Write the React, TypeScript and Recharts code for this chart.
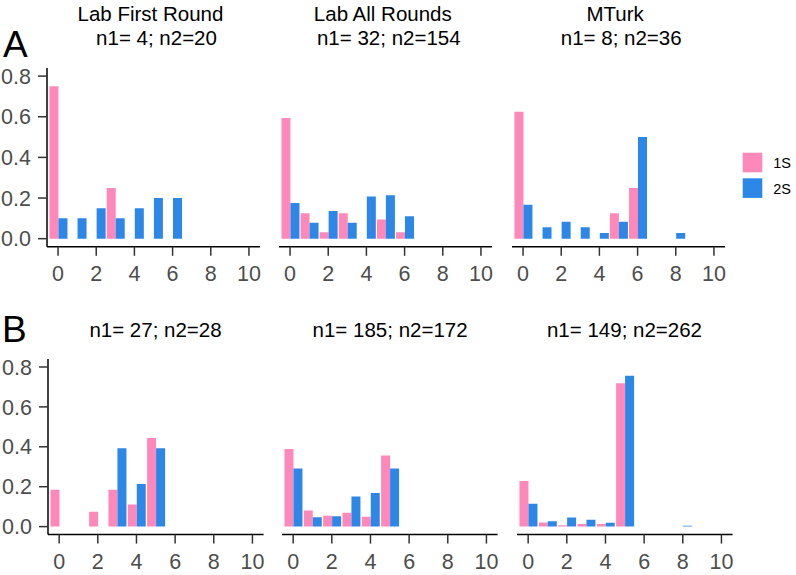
import React from 'react';
import { BarChart, Bar, XAxis, YAxis } from 'recharts';

// ---------- data ----------
const categories = [0, 1, 2, 3, 4, 5, 6, 7, 8, 9, 10];
const yTicks = [0, 0.2, 0.4, 0.6, 0.8];
const seriesNames = ['1S', '2S'];

// Row A
const labFirst1S = [0.75, null, null, 0.25, null, null, null, null, null, null, null];
const labFirst2S = [0.1, 0.1, 0.15, 0.1, 0.15, 0.2, 0.2, null, null, null, null];
const labAll1S = [0.594, 0.125, 0.031, 0.125, null, 0.094, 0.031, null, null, null, null];
const labAll2S = [0.175, 0.078, 0.136, 0.078, 0.208, 0.214, 0.11, null, null, null, null];
const mturk1S = [0.625, null, null, null, null, 0.125, 0.25, null, null, null, null];
const mturk2S = [0.167, 0.056, 0.083, 0.056, 0.028, 0.083, 0.5, null, 0.028, null, null];

// Row B
const bLabFirst1S = [0.185, null, 0.074, 0.185, 0.111, 0.444, null, null, null, null, null];
const bLabFirst2S = [null, null, null, 0.393, 0.214, 0.393, null, null, null, null, null];
const bLabAll1S = [0.389, 0.081, 0.054, 0.07, 0.049, 0.357, null, null, null, null, null];
const bLabAll2S = [0.291, 0.047, 0.052, 0.151, 0.169, 0.291, null, null, null, null, null];
const bMturk1S = [0.228, 0.02, 0.0067, 0.0134, 0.0134, 0.718, null, null, null, null, null];
const bMturk2S = [0.115, 0.027, 0.046, 0.034, 0.019, 0.756, null, null, 0.0038, null, null];

const rowATitles = ['Lab First Round', 'Lab All Rounds', 'MTurk'];
const rowACounts = ['n1= 4; n2=20', 'n1= 32; n2=154', 'n1= 8; n2=36'];
const rowBCounts = ['n1= 27; n2=28', 'n1= 185; n2=172', 'n1= 149; n2=262'];

// ---------- styles ----------
const PINK = '#FF88BB';
const BLUE = '#2C87E7';
const FONT = '"Liberation Sans", Arial, Helvetica, sans-serif';
const COLORS = [PINK, BLUE];
const TICK_FS = 21.5;

const ML = 50;
const MT = 10;
const MR = 10;
const MB = 50;
const XH = 45;

type PanelProps = {
  s1: (number | null)[];
  s2: (number | null)[];
  left: number;
  top: number;
  width: number;
  height: number;
  showY: boolean;
};

function Panel({ s1, s2, left, top, width, height, showY }: PanelProps) {
  const data = categories.map((c, i) => ({ x: c, s1: s1[i], s2: s2[i] }));
  return (
    <div style={{ position: 'absolute', left: left - ML, top: top - MT }}>
      <BarChart
        width={width + ML + MR}
        height={height + MT + MB}
        data={data}
        margin={{ top: MT, right: MR, bottom: MB - XH, left: showY ? 0 : ML }}
        barCategoryGap="5%"
        barGap={0}
        style={{ fontFamily: FONT }}
      >
        <XAxis
          dataKey="x"
          type="category"
          interval={1}
          height={XH}
          tickSize={9}
          tickMargin={10}
          fontSize={TICK_FS}
          padding={{ left: 1.5, right: 1.5 }}
          axisLine={{ stroke: '#000', strokeWidth: 1.5 }}
          tickLine={{ stroke: '#333', strokeWidth: 1.5 }}
          tick={{ fill: '#4D4D4D', fontSize: TICK_FS, fontFamily: FONT }}
        />
        <YAxis
          hide={!showY}
          width={ML}
          type="number"
          domain={[-0.04, 0.84]}
          ticks={yTicks}
          allowDataOverflow
          tickSize={9}
          tickMargin={7}
          fontSize={TICK_FS}
          tickFormatter={(v: number) => v.toFixed(1)}
          axisLine={{ stroke: '#000', strokeWidth: 1.5 }}
          tickLine={{ stroke: '#333', strokeWidth: 1.5 }}
          tick={{ fill: '#4D4D4D', fontSize: TICK_FS, fontFamily: FONT }}
        />
        <Bar dataKey="s1" name={seriesNames[0]} fill={PINK} isAnimationActive={false} />
        <Bar dataKey="s2" name={seriesNames[1]} fill={BLUE} isAnimationActive={false} />
      </BarChart>
    </div>
  );
}

const rowA = {
  top: 67.8,
  height: 178.8,
  width: 213,
  lefts: [47, 279.3, 511.7],
  series: [
    [labFirst1S, labFirst2S],
    [labAll1S, labAll2S],
    [mturk1S, mturk2S],
  ],
};

const rowB = {
  top: 359.2,
  height: 175.6,
  width: 215.6,
  lefts: [47.7, 282.3, 516.7],
  series: [
    [bLabFirst1S, bLabFirst2S],
    [bLabAll1S, bLabAll2S],
    [bMturk1S, bMturk2S],
  ],
};

export default function App() {
  return (
    <div
      style={{
        position: 'absolute',
        left: 0,
        top: 0,
        width: 796,
        height: 575,
        background: '#fff',
        fontFamily: FONT,
        overflow: 'hidden',
      }}
    >
      {rowA.lefts.map((l, i) => (
        <Panel
          key={'a' + i}
          s1={rowA.series[i][0]}
          s2={rowA.series[i][1]}
          left={l}
          top={rowA.top}
          width={rowA.width}
          height={rowA.height}
          showY={i === 0}
        />
      ))}
      {rowB.lefts.map((l, i) => (
        <Panel
          key={'b' + i}
          s1={rowB.series[i][0]}
          s2={rowB.series[i][1]}
          left={l}
          top={rowB.top}
          width={rowB.width}
          height={rowB.height}
          showY={i === 0}
        />
      ))}
      <svg
        width={796}
        height={575}
        style={{ position: 'absolute', left: 0, top: 0, pointerEvents: 'none' }}
        fontFamily={FONT}
      >
        <text x={3} y={56.5} fontSize={37} fill="#000">A</text>
        <text x={2} y={341.5} fontSize={37} fill="#000">B</text>
        {rowA.lefts.map((l, i) => (
          <g key={'ta' + i}>
            <text x={l + rowA.width / 2 - 3} y={20.7} fontSize={20.5} textAnchor="middle" fill="#000">
              {rowATitles[i]}
            </text>
            <text x={l + rowA.width / 2 + 3} y={45} fontSize={20.5} textAnchor="middle" fill="#000">
              {rowACounts[i]}
            </text>
          </g>
        ))}
        {rowB.lefts.map((l, i) => (
          <text key={'tb' + i} x={l + rowB.width / 2} y={336.7} fontSize={20.5} textAnchor="middle" fill="#000">
            {rowBCounts[i]}
          </text>
        ))}
        {seriesNames.map((n, i) => (
          <g key={'lg' + i}>
            <rect x={742.7} y={152.7 + i * 25.6} width={19.6} height={19.6} fill={COLORS[i]} />
            <text x={773.3} y={168.3 + i * 25.8} fontSize={14.5} fill="#000">{n}</text>
          </g>
        ))}
      </svg>
    </div>
  );
}
